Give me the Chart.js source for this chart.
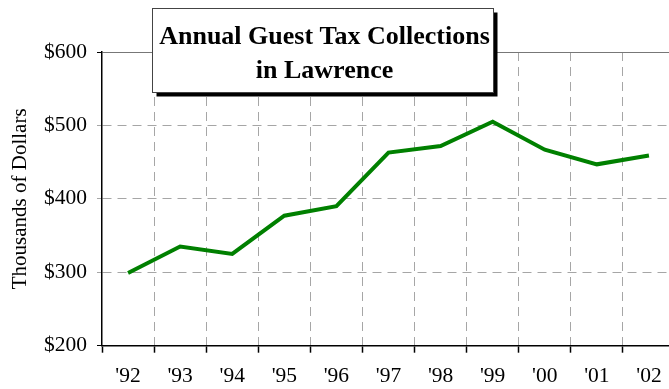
<!DOCTYPE html>
<html>
<head>
<meta charset="utf-8">
<script src="https://cdn.jsdelivr.net/npm/chart.js@4/dist/chart.umd.min.js"></script>
<style>
  html, body { margin: 0; padding: 0; background: #fff; overflow: hidden; }
  #wrap { width: 669px; height: 389px; overflow: hidden; }
  canvas { display: block; }
</style>
</head>
<body>
<div id="wrap"><canvas id="c" width="680" height="389"></canvas></div>
<script>
// Fiscal years shown on the category axis
const years = ["'92", "'93", "'94", "'95", "'96", "'97", "'98", "'99", "'00", "'01", "'02"];
// Guest tax collections, thousands of dollars
const collections = [299, 335, 325, 377, 390, 463, 472, 505, 467, 447, 459];
// Value axis
const yMin = 200;
const yMax = 600;
const yStep = 100;
// Headline shown in the framed box
const titleLines = ["Annual Guest Tax Collections", "in Lawrence"];
const axisTitle = "Thousands of Dollars";

const serif = "'Liberation Serif', 'Times New Roman', serif";

// Framed headline with a drop shadow, drawn over the plot
const titleBox = {
  id: 'titleBox',
  afterDraw(chart) {
    const ctx = chart.ctx;
    const x = 152.5, y = 8.5, w = 341, h = 84, sh = 4;
    ctx.save();
    ctx.fillStyle = '#000';
    ctx.fillRect(x + sh, y + sh, w, h);
    ctx.fillStyle = '#fff';
    ctx.fillRect(x, y, w, h);
    ctx.strokeStyle = '#444';
    ctx.lineWidth = 1;
    ctx.strokeRect(x, y, w, h);
    ctx.fillStyle = '#000';
    ctx.font = "bold 26px " + serif;
    ctx.textAlign = 'center';
    ctx.textBaseline = 'alphabetic';
    ctx.fillText(titleLines[0], x + w / 2 + 1.5, 43.5);
    ctx.fillText(titleLines[1], x + w / 2 + 1.5, 77.5);
    ctx.restore();
  }
};

new Chart(document.getElementById('c'), {
  type: 'line',
  data: {
    labels: years,
    datasets: [{
      data: collections,
      borderColor: '#008000',
      borderWidth: 4,
      pointRadius: 0,
      tension: 0,
      fill: false
    }]
  },
  options: {
    responsive: false,
    animation: false,
    layout: { padding: { top: 52, right: 5, bottom: 0, left: 0 } },
    plugins: { legend: { display: false }, tooltip: { enabled: false }, title: { display: false } },
    scales: {
      x: {
        offset: true,
        afterFit(scale) { scale.height = 43.3; },
        grid: {
          offset: true,
          color: (c) => (c.index === 0 ? 'rgba(0,0,0,0)' : '#a6a6a6'),
          lineWidth: 1,
          tickColor: '#000',
          tickLength: 7,
          tickWidth: 1.5
        },
        border: {
          display: true,
          color: '#000',
          width: 1.5,
          dash: (c) => (c.tick ? [9, 6] : [])
        },
        ticks: {
          color: '#000',
          font: { family: serif, size: 21.5 },
          padding: 11,
          maxRotation: 0,
          autoSkip: false
        }
      },
      y: {
        min: yMin,
        max: yMax,
        afterFit(scale) { scale.width = 102; },
        grid: {
          color: (c) => {
            if (!c.tick) return '#a6a6a6';
            if (c.tick.value === yMin) return 'rgba(0,0,0,0)';
            if (c.tick.value === yMax) return '#777';
            return '#a6a6a6';
          },
          lineWidth: 1,
          tickColor: (c) => (c.tick && (c.tick.value === yMin || c.tick.value === yMax) ? '#000' : '#a6a6a6'),
          tickLength: 5,
          tickWidth: 1
        },
        border: {
          display: true,
          color: '#000',
          width: 1.5,
          dash: (c) => (c.tick && c.tick.value !== yMax ? [9, 6] : [])
        },
        ticks: {
          stepSize: yStep,
          color: '#000',
          font: { family: serif, size: 21.5 },
          padding: 10,
          callback: (v) => '$' + v
        },
        title: {
          display: true,
          text: axisTitle,
          color: '#000',
          font: { family: serif, size: 21, lineHeight: 1.2 },
          padding: { top: 7.5, bottom: 0 }
        }
      }
    }
  },
  plugins: [titleBox]
});
</script>
</body>
</html>
